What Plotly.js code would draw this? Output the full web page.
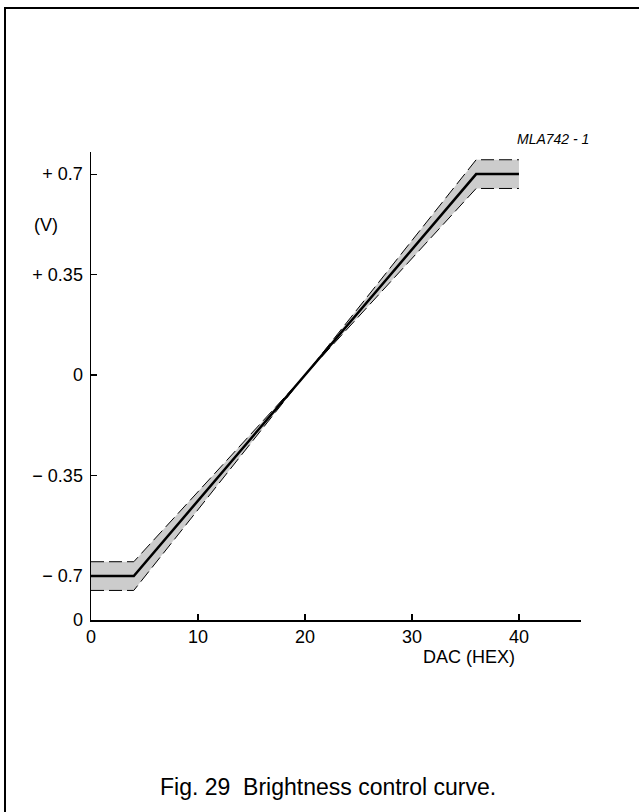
<!DOCTYPE html>
<html>
<head>
<meta charset="utf-8">
<script src="https://cdn.plot.ly/plotly-3.0.1.min.js"></script>
<style>
html,body{margin:0;padding:0;background:#fff;}
#chart{width:639px;height:812px;}
</style>
</head>
<body>
<div id="chart"></div>
<script>
// DAC codes (hex units as labelled on axis)
var dacMain = [0, 4, 36, 40];
var voltMain = [-0.7, -0.7, 0.7, 0.7];
var dacEnv = [0, 4, 20, 36, 40];
var voltUpper = [-0.65, -0.65, 0, 0.75, 0.75];
var voltLower = [-0.75, -0.75, 0, 0.65, 0.65];

var xTickVals = [0, 10, 20, 30, 40];
var xTickText = ['0', '10', '20', '30', '40'];
var yTickVals = [-0.853, -0.7, -0.35, 0, 0.35, 0.7];
var yTickText = ['0', '\u2212 0.7', '\u2212 0.35', '0', '+ 0.35', '+ 0.7'];

var font = 'Liberation Sans, Arial, sans-serif';

var traces = [
  {x: dacEnv, y: voltLower, mode: 'lines', line: {color: '#000', width: 1, dash: '13px,5px'}, hoverinfo: 'skip'},
  {x: dacEnv, y: voltUpper, mode: 'lines', fill: 'tonexty', fillcolor: 'rgb(204,204,204)', line: {color: '#000', width: 1, dash: '13px,5px'}, hoverinfo: 'skip'},
  {x: dacMain, y: voltMain, mode: 'lines', line: {color: '#000', width: 2.5}, hoverinfo: 'skip'}
];

var L = 91, R = 58, T = 152, B = 192, W = 639, H = 812;
var pw = W - L - R, ph = H - T - B;
function px(x){ return (x - L) / pw; }
function py(y){ return (H - B - y) / ph; }

var layout = {
  width: W, height: H,
  margin: {l: L, r: R, t: T, b: B, pad: 0},
  paper_bgcolor: '#fff', plot_bgcolor: '#fff',
  showlegend: false,
  font: {family: font, color: '#000', size: 18},
  xaxis: {
    range: [0, 45.8], showgrid: false, zeroline: false,
    showline: true, linecolor: '#000', linewidth: 1.5,
    ticks: 'inside', ticklen: 6, tickwidth: 1.2, tickcolor: '#000',
    tickvals: xTickVals, ticktext: xTickText,
    tickfont: {family: font, size: 18, color: '#000'}
  },
  yaxis: {
    range: [-0.853, 0.777], showgrid: false, zeroline: false,
    showline: true, linecolor: '#000', linewidth: 1.5,
    ticks: 'inside', ticklen: 6, tickwidth: 1.2, tickcolor: '#000',
    tickvals: yTickVals, ticktext: yTickText,
    tickfont: {family: font, size: 18, color: '#000'},
    ticklabelstandoff: 3
  },
  annotations: [
    {xref: 'paper', yref: 'paper', x: px(46), y: py(225), text: '(V)', showarrow: false, xanchor: 'center', yanchor: 'middle', font: {family: font, size: 18}},
    {xref: 'paper', yref: 'paper', x: px(469), y: py(657), text: 'DAC (HEX)', showarrow: false, xanchor: 'center', yanchor: 'middle', font: {family: font, size: 18}},
    {xref: 'paper', yref: 'paper', x: px(591), y: py(139), text: '<i>MLA742 - 1</i>', showarrow: false, xanchor: 'right', yanchor: 'middle', font: {family: font, size: 14}},
    {xref: 'paper', yref: 'paper', x: px(328), y: py(787), text: 'Fig. 29\u00A0\u00A0Brightness control curve.', showarrow: false, xanchor: 'center', yanchor: 'middle', font: {family: font, size: 23}}
  ],
  shapes: [
    {type: 'rect', xref: 'paper', yref: 'paper', x0: px(5), x1: px(660), y0: py(830), y1: py(8), line: {color: '#000', width: 2}, layer: 'above'}
  ]
};

Plotly.newPlot('chart', traces, layout, {staticPlot: true, displayModeBar: false});
</script>
</body>
</html>
